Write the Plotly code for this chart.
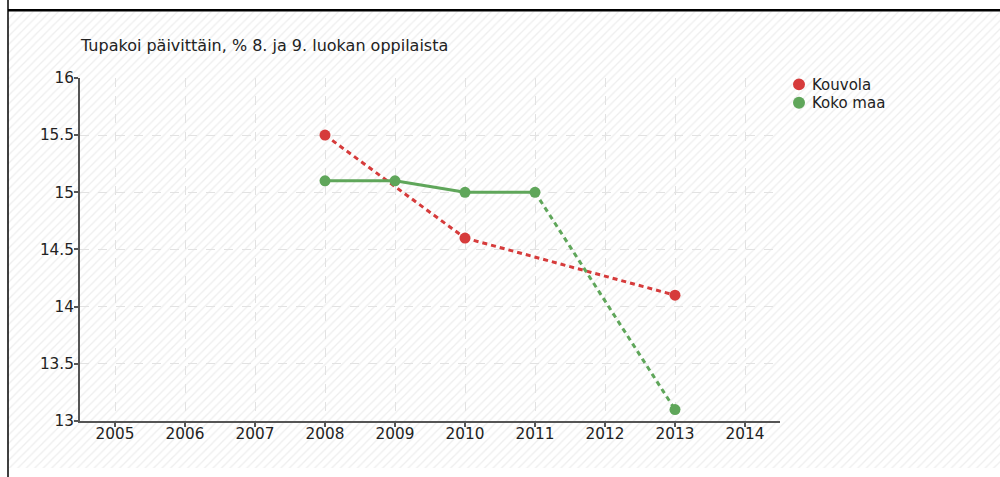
import plotly.graph_objects as go

years = [2005, 2006, 2007, 2008, 2009, 2010, 2011, 2012, 2013, 2014]
kouvola = [None, None, None, 15.5, None, 14.6, None, None, 14.1, None]
koko_maa = [None, None, None, 15.1, 15.1, 15.0, 15.0, None, 13.1, None]
series_names = ["Kouvola", "Koko maa"]
title_text = "Tupakoi päivittäin, % 8. ja 9. luokan oppilaista"
y_ticks = [13, 13.5, 14, 14.5, 15, 15.5, 16]

colors = ["#d63b3b", "#5fa65a"]
FONT = "DejaVu Sans"
TXT = "#222222"

W, H = 1000, 477
# as photographed, the figure appears in a box starting ~7.7px down, ~461.5px tall
OFF, VIS = 7.74, 461.5


def py(y_px):
    """paper y fraction for a target screen y (pixels from top)"""
    return 1 - (y_px - OFF) / VIS


def px(x_px):
    return x_px / W


x0, x1 = 80, 780
y0, y1 = 77, 422

fig = go.Figure()

# hatched page background on helper axes x/y (drawn first, underneath)
fig.add_trace(go.Scatter(
    x=[0, 1, 1, 0, 0], y=[0, 0, 1, 1, 0], xaxis="x", yaxis="y",
    mode="lines", line=dict(width=0), fill="toself", fillcolor="white",
    fillpattern=dict(shape="/", fgcolor="#dddddd", bgcolor="white", size=6, solidity=0.22),
    hoverinfo="skip", showlegend=False))


def segments(xs, vs):
    pts = [(x, v) for x, v in zip(xs, vs) if v is not None]
    solid, dashed = [], []
    for (xa, va), (xb, vb) in zip(pts[:-1], pts[1:]):
        gap = xs.index(xb) - xs.index(xa)
        (solid if gap == 1 else dashed).append(((xa, va), (xb, vb)))
    return pts, solid, dashed


for name, vals, col in zip(series_names, [kouvola, koko_maa], colors):
    pts, solid, dashed = segments(years, vals)
    for segs, dash in [(dashed, "5px,4px"), (solid, "solid")]:
        sx, sy = [], []
        for (xa, va), (xb, vb) in segs:
            sx += [xa, xb, None]
            sy += [va, vb, None]
        if sx:
            fig.add_trace(go.Scatter(x=sx, y=sy, mode="lines", xaxis="x2", yaxis="y2",
                                     line=dict(color=col, width=3, dash=dash),
                                     showlegend=False, hoverinfo="skip"))
    fig.add_trace(go.Scatter(x=[p[0] for p in pts], y=[p[1] for p in pts],
                             mode="markers", name=name, xaxis="x2", yaxis="y2",
                             marker=dict(color=col, size=11), showlegend=False))

shapes = [
    dict(type="line", xref="paper", yref="paper", x0=px(8), x1=1, y0=py(9), y1=py(9),
         line=dict(color="black", width=2.5)),
    dict(type="line", xref="paper", yref="paper", x0=px(8), x1=px(8), y0=-0.05, y1=1.05,
         line=dict(color="black", width=1.5)),
]
annotations = [dict(text=title_text, x=px(78), y=py(44), xref="paper", yref="paper",
                    xanchor="left", yanchor="middle", showarrow=False,
                    font=dict(size=16, family=FONT, color=TXT))]
# custom legend (markers + labels)
for i, (name, col) in enumerate(zip(series_names, colors)):
    cy = 83.5 + 18.5 * i
    shapes.append(dict(type="circle", xref="paper", yref="paper",
                       x0=px(793), x1=px(805), y0=py(cy + 6), y1=py(cy - 6),
                       fillcolor=col, line=dict(width=0)))
    annotations.append(dict(text=name, x=px(810), y=py(cy + 0.5), xref="paper", yref="paper",
                            xanchor="left", yanchor="middle", showarrow=False,
                            font=dict(size=15, family=FONT, color=TXT)))

axis_common = dict(showgrid=True, gridcolor="#e2e2e2", griddash="dash", gridwidth=1,
                   showline=True, linecolor="#555555", linewidth=2,
                   ticks="outside", ticklen=4, tickcolor="#555555", tickwidth=1.5,
                   zeroline=False, tickfont=dict(size=15.3, family=FONT, color=TXT))

fig.update_layout(
    width=W, height=H,
    margin=dict(l=0, r=0, t=0, b=0),
    paper_bgcolor="white", plot_bgcolor="rgba(0,0,0,0)",
    font=dict(family=FONT, size=15, color=TXT),
    showlegend=False,
    xaxis=dict(domain=[px(8), 1], range=[0, 1], visible=False, fixedrange=True),
    yaxis=dict(domain=[0, py(10)], range=[0, 1], visible=False, fixedrange=True),
    xaxis2=dict(domain=[px(x0), px(x1)], range=[2004.5, 2014.5], anchor="y2",
                tickvals=years, ticktext=[str(y) for y in years],
                ticklabelstandoff=-6, **axis_common),
    yaxis2=dict(domain=[py(y1), py(y0)], range=[13, 16], anchor="x2",
                tickvals=y_ticks, ticktext=[f"{v:g}" for v in y_ticks],
                ticklabelstandoff=-3, **axis_common),
    annotations=annotations,
    shapes=shapes,
)

fig.write_html("out.html", config={"displayModeBar": False},
               post_script="document.body.style.margin='0';document.body.style.overflow='hidden';")
